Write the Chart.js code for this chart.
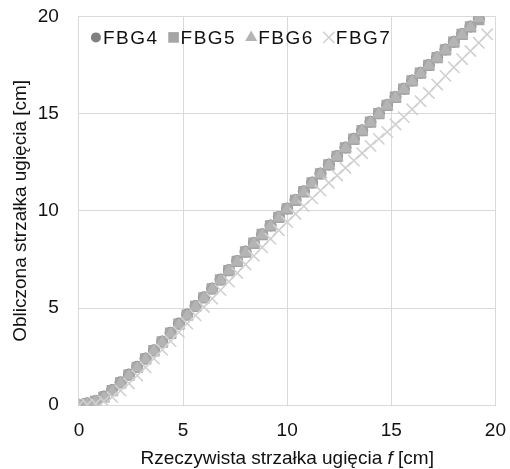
<!DOCTYPE html>
<html>
<head>
<meta charset="utf-8">
<script src="https://cdn.jsdelivr.net/npm/chart.js@4.4.1/dist/chart.umd.min.js"></script>
<style>
  html, body { margin: 0; padding: 0; background: #fff; }
  #wrap { width: 510px; height: 469px; }
</style>
</head>
<body>
<div id="wrap"><canvas id="chart" width="510" height="469"></canvas></div>
<script>
// Measured deflection (x) for all sensors
const xVals = [0, 0.4, 0.8, 1.2, 1.6, 2, 2.4, 2.8, 3.2, 3.6, 4, 4.4, 4.8, 5.2, 5.6, 6, 6.4, 6.8,
  7.2, 7.6, 8, 8.4, 8.8, 9.2, 9.6, 10, 10.4, 10.8, 11.2, 11.6, 12, 12.4, 12.8, 13.2, 13.6, 14,
  14.4, 14.8, 15.2, 15.6, 16, 16.4, 16.8, 17.2, 17.6, 18, 18.4, 18.8, 19.2];
const xValsFbg7 = xVals.concat([19.6]);

// Computed deflection per sensor
const fbg4 = [0, 0.1, 0.22, 0.45, 0.78, 1.18, 1.58, 1.98, 2.4, 2.83, 3.28, 3.73, 4.2, 4.66, 5.1,
  5.55, 6.0, 6.47, 6.95, 7.42, 7.9, 8.35, 8.8, 9.25, 9.68, 10.12, 10.56, 11.0, 11.46, 11.92,
  12.38, 12.82, 13.26, 13.7, 14.14, 14.58, 15.02, 15.44, 15.86, 16.28, 16.7, 17.1, 17.5, 17.9,
  18.3, 18.7, 19.1, 19.48, 19.86];
const fbg5 = [0, 0.08, 0.2, 0.42, 0.75, 1.15, 1.55, 1.95, 2.38, 2.8, 3.25, 3.7, 4.17, 4.63, 5.08,
  5.52, 5.98, 6.45, 6.92, 7.4, 7.88, 8.33, 8.78, 9.22, 9.66, 10.1, 10.54, 10.98, 11.44, 11.9,
  12.36, 12.8, 13.24, 13.68, 14.12, 14.56, 15.0, 15.42, 15.84, 16.26, 16.68, 17.08, 17.48, 17.88,
  18.28, 18.68, 19.08, 19.46, 19.84];
const fbg6 = [0, 0.06, 0.18, 0.4, 0.72, 1.12, 1.52, 1.93, 2.35, 2.78, 3.22, 3.68, 4.14, 4.6, 5.05,
  5.5, 5.95, 6.42, 6.9, 7.37, 7.85, 8.3, 8.76, 9.2, 9.64, 10.08, 10.52, 10.96, 11.42, 11.88,
  12.34, 12.78, 13.22, 13.66, 14.1, 14.54, 14.98, 15.4, 15.82, 16.24, 16.66, 17.06, 17.46, 17.86,
  18.26, 18.66, 19.06, 19.44, 19.9];
const fbg7 = [0, 0.03, 0.08, 0.2, 0.42, 0.75, 1.12, 1.52, 1.95, 2.4, 2.85, 3.3, 3.76, 4.2, 4.62,
  5.05, 5.48, 5.92, 6.36, 6.8, 7.24, 7.68, 8.12, 8.56, 9.0, 9.42, 9.84, 10.24, 10.64, 11.04,
  11.44, 11.82, 12.2, 12.58, 12.96, 13.34, 13.7, 14.06, 14.44, 14.82, 15.22, 15.64, 16.06, 16.5,
  16.94, 17.38, 17.8, 18.22, 18.64, 19.08];

const axisTicks = [0, 5, 10, 15, 20];

function toPoints(xs, ys) {
  return ys.map(function(y, i) { return { x: xs[i], y: y }; });
}

const FONT = "'Liberation Sans', Arial, sans-serif";
const TEXT = '#111';
const gridColor = '#d9d9d9';

// x-axis title with an italic "f"
const xTitlePlugin = {
  id: 'xTitle',
  afterDraw(chart) {
    const ctx = chart.ctx;
    const area = chart.chartArea;
    const parts = [
      { t: 'Rzeczywista strzałka ugięcia ', f: '19px ' + FONT },
      { t: 'f', f: 'italic 19px ' + FONT },
      { t: ' [cm]', f: '19px ' + FONT }
    ];
    ctx.save();
    let total = 0;
    parts.forEach(function(p) { ctx.font = p.f; p.w = ctx.measureText(p.t).width; total += p.w; });
    let x = (area.left + area.right) / 2 - total / 2;
    ctx.fillStyle = TEXT;
    ctx.textBaseline = 'middle';
    ctx.textAlign = 'left';
    parts.forEach(function(p) { ctx.font = p.f; ctx.fillText(p.t, x, 459); x += p.w; });
    ctx.restore();
  }
};

// legend drawn inside the plot, one row, in series order
const legendPlugin = {
  id: 'innerLegend',
  afterDraw(chart) {
    const ctx = chart.ctx;
    const area = chart.chartArea;
    const y = area.top + 21;
    let x = area.left + 12;
    const items = chart.data.datasets.slice().reverse();
    ctx.save();
    ctx.font = '19px ' + FONT;
    ctx.letterSpacing = '1.5px';
    ctx.textBaseline = 'middle';
    ctx.textAlign = 'left';
    items.forEach(function(ds) {
      ctx.fillStyle = ds.backgroundColor;
      ctx.strokeStyle = ds.borderColor;
      ctx.lineWidth = ds.pointBorderWidth || 0;
      Chart.helpers.drawPoint(ctx, {
        pointStyle: ds.pointStyle, radius: ds.legendRadius, rotation: 0,
        borderWidth: ds.pointBorderWidth || 0
      }, x + 5, y);
      x += 12;
      ctx.fillStyle = TEXT;
      ctx.fillText(ds.label, x, y + 1);
      x += ctx.measureText(ds.label).width + 10;
    });
    ctx.restore();
  }
};

const datasets = [
  { label: 'FBG7', data: toPoints(xValsFbg7, fbg7), pointStyle: 'crossRot', pointRadius: 8, legendRadius: 8,
    borderColor: '#d0d0d0', backgroundColor: '#d0d0d0', pointBorderWidth: 1.6 },
  { label: 'FBG6', data: toPoints(xVals, fbg6), pointStyle: 'triangle', pointRadius: 7.5, legendRadius: 7,
    borderColor: '#b4b4b4', backgroundColor: '#b4b4b4', pointBorderWidth: 0 },
  { label: 'FBG5', data: toPoints(xVals, fbg5), pointStyle: 'rect', pointRadius: 8, legendRadius: 7.5,
    borderColor: '#a5a5a5', backgroundColor: '#a5a5a5', pointBorderWidth: 0 },
  { label: 'FBG4', data: toPoints(xVals, fbg4), pointStyle: 'circle', pointRadius: 6, legendRadius: 5,
    borderColor: '#808080', backgroundColor: '#808080', pointBorderWidth: 0 }
];

function fixedTicks(axis) {
  axis.ticks = axisTicks.map(function(v) { return { value: v }; });
}

new Chart(document.getElementById('chart').getContext('2d'), {
  type: 'scatter',
  data: { datasets: datasets },
  options: {
    responsive: false,
    animation: false,
    layout: { padding: { left: 5, right: 2, top: 6, bottom: 23 } },
    plugins: {
      legend: { display: false },
      tooltip: { enabled: false }
    },
    scales: {
      x: {
        type: 'linear', min: 0, max: 20,
        afterBuildTicks: fixedTicks,
        grid: { color: gridColor, lineWidth: 1, tickLength: 10, tickColor: 'rgba(0,0,0,0)' },
        border: { color: gridColor, width: 1 },
        ticks: { padding: 4, color: TEXT, font: { family: FONT, size: 19 }, maxRotation: 0 }
      },
      y: {
        type: 'linear', min: 0, max: 20,
        afterBuildTicks: fixedTicks,
        grid: { color: gridColor, lineWidth: 1, tickLength: 15, tickColor: 'rgba(0,0,0,0)' },
        border: { color: gridColor, width: 1 },
        ticks: { padding: 5, color: TEXT, font: { family: FONT, size: 19 } },
        title: {
          display: true,
          text: 'Obliczona strzałka ugięcia [cm]',
          color: TEXT,
          font: { family: FONT, size: 19 },
          padding: { top: 4, bottom: 1 }
        }
      }
    }
  },
  plugins: [xTitlePlugin, legendPlugin]
});
</script>
</body>
</html>
